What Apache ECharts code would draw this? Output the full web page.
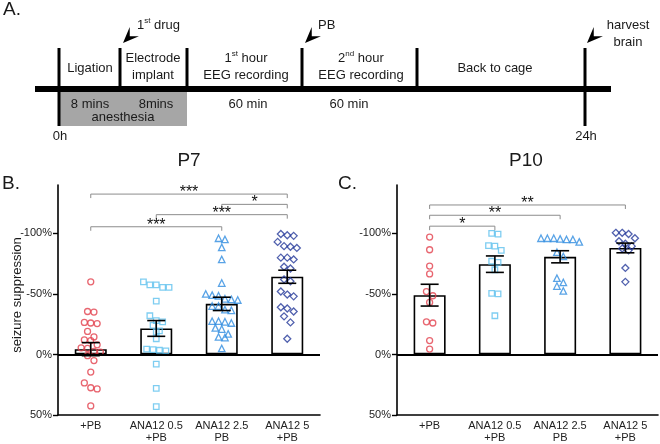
<!DOCTYPE html>
<html><head><meta charset="utf-8">
<script src="https://cdn.jsdelivr.net/npm/echarts@6/dist/echarts.min.js"></script>
<style>html,body{margin:0;padding:0;background:#fff}#c{width:660px;height:444px}</style>
</head><body><div id="c"></div>
<script>
// ---------- data ----------
const categories = ['+PB', 'ANA12 0.5\n+PB', 'ANA12 2.5\nPB', 'ANA12 5\n+PB'];
const yTickValues = [-50, 0, 50, 100];

// P7 (panel B) – seizure suppression per animal (%; up = more suppression)
const p7_pb    = [60, 35.5, 35, 26.5, 26, 25.5, 19, 14.5, 12, 11.5, 8, 5.5, 5, 2.5, 2, -1, -5, -14.5, -23.5, -27.5, -28.5, -42.5];
const p7_ana05 = [60, 57.5, 57.5, 55.5, 55.5, 44, 32, 28, 27, 24, 19.5, 18.5, 13, 4.5, 4, 3.5, 3, -8, -28, -43];
const p7_ana25 = [96, 95, 88.5, 78.5, 59, 50, 49, 48.5, 46, 45.5, 45, 40, 40, 37, 36.5, 27.5, 27.5, 27, 26, 22, 21, 17, 14.5, 14, 5];
const p7_ana5  = [99.5, 98.5, 98, 93, 89.5, 89, 88, 80, 80, 78.5, 72.5, 71, 62, 60.5, 52, 49.5, 48, 39, 38, 35.5, 31.5, 26.5, 13];
const p7_mean  = [4.4, 21.5, 41.8, 64.2];
const p7_sem   = [5.4, 6.5, 5.5, 5.4];
const p7_sig   = [[0, 3, 132.5, '***'], [2, 3, 124, '*'], [1, 3, 115.5, '***'], [0, 2, 105.5, '***']];

// P10 (panel C)
const p10_pb    = [97, 86.5, 73, 66.5, 52, 48.5, 43, 27, 26, 11.5, 4.5];
const p10_ana05 = [100, 99.5, 90, 89.5, 86, 77, 76, 70, 50.5, 50, 32];
const p10_ana25 = [96, 96, 96, 95.5, 95, 95, 93, 84.5, 81, 63, 59.5, 56.5, 52.5];
const p10_ana5  = [100.5, 100.5, 99.5, 96, 93.5, 91.5, 89.5, 87.5, 86, 71.5, 60];
const p10_mean  = [49, 74.6, 80.7, 88];
const p10_sem   = [9, 6.8, 5, 4];
const p10_sig   = [[0, 3, 123.5, '**'], [0, 2, 115, '**'], [0, 1, 106, '*']];

// Panel A schematic texts
const timelineStages = ['Ligation', 'Electrode\nimplant', '{n|1}{s|st}{n| hour}\nEEG recording', '{n|2}{s|nd}{n| hour}\nEEG recording', 'Back to cage'];
const stageDurations = ['8 mins', '8mins', '60 min', '60 min'];
const timeMarks = ['0h', '24h'];
const eventLabels = ['{n|1}{s|st}{n| drug}', 'PB', 'harvest\nbrain'];

// ---------- style ----------
const FONT = '"Liberation Sans", Arial, Helvetica, sans-serif';
const COLORS = ['#e2404c', '#5ec0ee', '#2f8ce0', '#26399a'];
const SYMBOLS = ['circle', 'rect', 'triangle', 'diamond'];
const SYMSIZE = [6, 5.5, 6.5, 7];

const GRID_TOP = 185, GRID_BOTTOM = 27;
const Y_MIN = -50, Y_MAX = 140;
const PX_PER_UNIT = (444 - GRID_TOP - GRID_BOTTOM) / (Y_MAX - Y_MIN);
const CAT_PX = 65.5, DOT_PX = 6.4;

function swarm(values, cat) {
  const s = values.slice().sort((a, b) => b - a);
  const out = [];
  let i = 0;
  while (i < s.length) {
    let j = i + 1;
    while (j < s.length && (s[i] - s[j]) * PX_PER_UNIT < DOT_PX) j++;
    const k = j - i;
    for (let m = 0; m < k; m++) out.push([cat + (m - (k - 1) / 2) * DOT_PX / CAT_PX, s[i + m]]);
    i = j;
  }
  return out;
}

function yFmt(v) { return v > 0 ? '-' + v + '%' : (v === 0 ? '0%' : (-v) + '%'); }

function panelSeries(gi, groups, mean, sem, sig) {
  const xc = gi * 2, xv = gi * 2 + 1, y = gi;
  const series = [];
  series.push({
    type: 'bar', xAxisIndex: xc, yAxisIndex: y, data: mean, barWidth: 32, z: 1,
    itemStyle: { color: '#fff', borderColor: '#000', borderWidth: 1.6 },
    markLine: { silent: true, symbol: ['none', 'none'], label: { show: false },
      lineStyle: { color: '#000', width: 2, type: 'solid' }, data: [{ yAxis: 0 }] }
  });
  groups.forEach((g, i) => {
    series.push({
      type: 'scatter', xAxisIndex: xv, yAxisIndex: y, data: swarm(g, i), z: 3,
      symbol: SYMBOLS[i], symbolSize: SYMSIZE[i],
      itemStyle: { color: 'rgba(255,255,255,0)', borderColor: COLORS[i], borderWidth: 1.3 }
    });
  });
  series.push({
    type: 'custom', xAxisIndex: xc, yAxisIndex: y, z: 5,
    data: mean.map((m, i) => [i, m, sem[i]]),
    renderItem(params, api) {
      const x = api.value(0), m = api.value(1), s = api.value(2);
      const t = api.coord([x, m + s]), b = api.coord([x, m - s]);
      const hw = 9, st = { stroke: '#000', lineWidth: 1.6 };
      return { type: 'group', children: [
        { type: 'line', shape: { x1: t[0], y1: t[1], x2: b[0], y2: b[1] }, style: st },
        { type: 'line', shape: { x1: t[0] - hw, y1: t[1], x2: t[0] + hw, y2: t[1] }, style: st },
        { type: 'line', shape: { x1: b[0] - hw, y1: b[1], x2: b[0] + hw, y2: b[1] }, style: st }
      ] };
    }
  });
  series.push({
    type: 'custom', xAxisIndex: xv, yAxisIndex: y, z: 6,
    data: sig,
    renderItem(params, api) {
      const a = api.coord([api.value(0), api.value(2)]);
      const b = api.coord([api.value(1), api.value(2)]);
      const lbl = sig[params.dataIndex][3];
      const tk = 4;
      return { type: 'group', children: [
        { type: 'polyline', shape: { points: [[a[0], a[1] + tk], [a[0], a[1]], [b[0], b[1]], [b[0], b[1] + tk]] },
          style: { stroke: '#8c8c8c', lineWidth: 1, fill: null } },
        { type: 'text', x: (a[0] + b[0]) / 2, y: a[1] - 1.5,
          style: { text: lbl, fontSize: 16, fontFamily: FONT, fill: '#111', align: 'center', verticalAlign: 'middle',
                   textAlign: 'center', textVerticalAlign: 'middle' } }
      ] };
    }
  });
  return series;
}

const xAxes = [], yAxes = [];
[0, 1].forEach(gi => {
  xAxes.push({
    gridIndex: gi, type: 'category', data: categories, position: 'bottom',
    axisLine: { onZero: false, lineStyle: { color: '#000', width: 1.6 } },
    axisTick: { alignWithLabel: true, length: 4, lineStyle: { color: '#000', width: 1.4 } },
    axisLabel: { color: '#222', fontSize: 11, lineHeight: 12, margin: 5, interval: 0, fontFamily: FONT }
  });
  xAxes.push({ gridIndex: gi, type: 'value', min: -0.5, max: 3.5, show: false });
  yAxes.push({
    gridIndex: gi, type: 'value', min: Y_MIN, max: Y_MAX,
    axisLine: { show: true, onZero: false, lineStyle: { color: '#000', width: 1.6 } },
    axisTick: { show: true, length: 5, customValues: yTickValues, lineStyle: { color: '#000', width: 1.4 } },
    axisLabel: { customValues: yTickValues, formatter: yFmt, color: '#222', fontSize: 11, margin: 6, fontFamily: FONT },
    splitLine: { show: false }
  });
});

// ---------- panel A schematic (graphic) ----------
const g = [];
function T(x, y, text, size, align, extra) {
  g.push(Object.assign({ type: 'text', x: x, y: y, z: 10, style: {
    text: text, fontSize: size, fontFamily: FONT, fill: '#1a1a1a', align: align || 'center', verticalAlign: 'middle',
    textAlign: align || 'center', textVerticalAlign: 'middle', lineHeight: 17,
    rich: { n: { fontSize: 13, fontFamily: FONT, fill: '#1a1a1a' }, s: { fontSize: 8, fontFamily: FONT, fill: '#1a1a1a', verticalAlign: 'top', padding: [0, 0, 6, 0] } }
  } }, extra || {}));
}
const LA = { lineY: 89, lineX0: 35, lineX1: 611, divX: [59, 120, 187, 302, 417, 585], divTop: 48, longBottom: 126 };
// gray anesthesia box
g.push({ type: 'rect', shape: { x: LA.divX[0], y: LA.lineY, width: LA.divX[2] - LA.divX[0], height: LA.longBottom - LA.lineY }, style: { fill: '#a6a6a6' }, z: 1 });
// main line
g.push({ type: 'rect', shape: { x: LA.lineX0, y: LA.lineY - 3, width: LA.lineX1 - LA.lineX0, height: 6 }, style: { fill: '#000' }, z: 2 });
LA.divX.forEach((x, i) => {
  const bottom = (i === 0 || i === LA.divX.length - 1) ? LA.longBottom : LA.lineY;
  g.push({ type: 'rect', shape: { x: x - 1.5, y: LA.divTop, width: 3, height: bottom - LA.divTop }, style: { fill: '#000' }, z: 2 });
});
// stage labels
[[90, 68], [153, 67], [246, 67], [361, 67], [495, 68]].forEach((p, i) => T(p[0], p[1], timelineStages[i], 13));
[[90, 104], [156, 104], [248, 104], [349, 104]].forEach((p, i) => T(p[0], p[1], stageDurations[i], 13));
T(123, 117, 'anesthesia', 13);
T(60, 136, timeMarks[0], 13);
T(586, 136, timeMarks[1], 13);
// arrows
function arrow(tx, ty) {
  const L = 16, W = 13, d = [-Math.SQRT1_2, Math.SQRT1_2], n = [Math.SQRT1_2, Math.SQRT1_2];
  const bx = tx - d[0] * L, by = ty - d[1] * L;
  g.push({ type: 'polygon', z: 5, shape: { points: [
    [tx, ty], [bx + n[0] * W / 2, by + n[1] * W / 2], [tx - d[0] * L * 0.6, ty - d[1] * L * 0.6], [bx - n[0] * W / 2, by - n[1] * W / 2]
  ] }, style: { fill: '#000' } });
}
arrow(123, 43); arrow(305, 43); arrow(587, 43);
T(137, 25, eventLabels[0], 13, 'left');
T(318, 25, eventLabels[1], 13, 'left');
T(628, 34, eventLabels[2], 13, 'center');
// panel letters & titles
T(3, 10, 'A.', 19, 'left');
T(2, 184, 'B.', 19, 'left');
T(338, 184, 'C.', 19, 'left');
T(189, 161, 'P7', 19, 'center');
T(526, 161, 'P10', 19, 'center');
T(17, 295, 'seizure suppression', 13, 'center', { rotation: Math.PI / 2 });

const option = {
  animation: false,
  backgroundColor: '#fff',
  grid: [
    { left: 58, right: 660 - 320, top: GRID_TOP, bottom: GRID_BOTTOM },
    { left: 397, right: 2, top: GRID_TOP, bottom: GRID_BOTTOM }
  ],
  xAxis: xAxes,
  yAxis: yAxes,
  graphic: { elements: g },
  series: [].concat(
    panelSeries(0, [p7_pb, p7_ana05, p7_ana25, p7_ana5], p7_mean, p7_sem, p7_sig),
    panelSeries(1, [p10_pb, p10_ana05, p10_ana25, p10_ana5], p10_mean, p10_sem, p10_sig)
  )
};
const chart = echarts.init(document.getElementById('c'), null, { renderer: 'canvas' });
chart.setOption(option);
</script>
</body></html>
